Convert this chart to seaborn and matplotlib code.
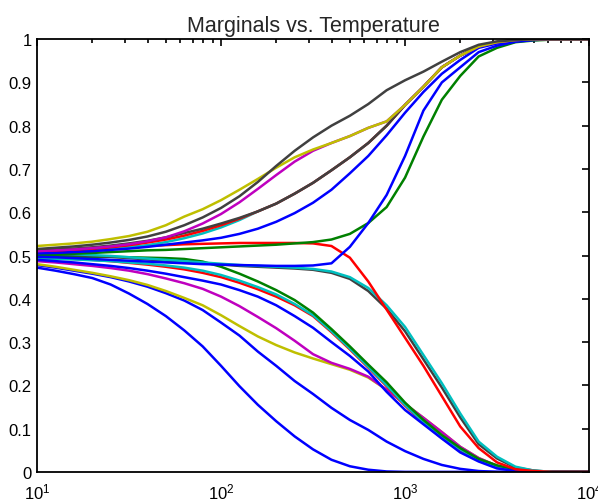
import numpy as np
import pandas as pd
import matplotlib
matplotlib.use("Agg")
import matplotlib.pyplot as plt
import seaborn as sns
from matplotlib.ticker import LogLocator, FixedLocator

sns.set_style("white")
plt.rcParams['font.family'] = ['Liberation Sans', 'DejaVu Sans']
plt.rcParams['mathtext.default'] = 'regular'

# temperatures (x), 10 steps per decade
T = [10, 12.59, 15.85, 19.95, 25.12, 31.62, 39.81, 50.12, 63.10, 79.43,
     100, 125.9, 158.5, 199.5, 251.2, 316.2, 398.1, 501.2, 631.0, 794.3,
     1000, 1259, 1585, 1995, 2512, 3162, 3981, 5012, 6310, 7943, 10000]

# marginal curves
gray_top   = [0.515, 0.518, 0.521, 0.525, 0.530, 0.536, 0.544, 0.555, 0.570, 0.588,
              0.610, 0.637, 0.670, 0.707, 0.742, 0.773, 0.800, 0.823, 0.850, 0.882,
              0.905, 0.925, 0.948, 0.970, 0.987, 0.995, 0.998, 1.0, 1.0, 1.0, 1.0]
yellow_top = [0.522, 0.525, 0.528, 0.532, 0.538, 0.545, 0.555, 0.570, 0.590, 0.607,
              0.628, 0.652, 0.677, 0.703, 0.727, 0.745, 0.760, 0.776, 0.795, 0.810,
              0.848, 0.890, 0.935, 0.962, 0.983, 0.993, 0.998, 1.0, 1.0, 1.0, 1.0]
magenta_up = [0.510, 0.512, 0.514, 0.517, 0.521, 0.526, 0.533, 0.542, 0.556, 0.574,
              0.596, 0.623, 0.654, 0.686, 0.717, 0.742, 0.760, 0.776, 0.795, 0.810,
              0.848, 0.890, 0.935, 0.962, 0.983, 0.993, 0.998, 1.0, 1.0, 1.0, 1.0]
gray_2     = [0.512, 0.514, 0.516, 0.519, 0.523, 0.528, 0.534, 0.542, 0.552, 0.562,
              0.574, 0.587, 0.602, 0.620, 0.643, 0.668, 0.697, 0.727, 0.760, 0.800,
              0.848, 0.890, 0.935, 0.962, 0.983, 0.993, 0.998, 1.0, 1.0, 1.0, 1.0]
red_up2    = [0.508, 0.510, 0.512, 0.515, 0.519, 0.524, 0.530, 0.537, 0.546, 0.557,
              0.570, 0.585, 0.602, 0.620, 0.643, 0.668, 0.697, 0.727, 0.760, 0.800,
              0.848, 0.890, 0.935, 0.962, 0.983, 0.993, 0.998, 1.0, 1.0, 1.0, 1.0]
cyan_up2   = [0.507, 0.508, 0.510, 0.512, 0.515, 0.519, 0.524, 0.531, 0.540, 0.551,
              0.565, 0.582, 0.602, 0.620, 0.643, 0.668, 0.697, 0.727, 0.760, 0.800,
              0.848, 0.890, 0.935, 0.962, 0.983, 0.993, 0.998, 1.0, 1.0, 1.0, 1.0]
blue_up    = [0.505, 0.506, 0.508, 0.510, 0.513, 0.516, 0.520, 0.525, 0.530, 0.535,
              0.541, 0.550, 0.562, 0.578, 0.598, 0.622, 0.652, 0.690, 0.730, 0.778,
              0.830, 0.878, 0.920, 0.952, 0.980, 0.990, 0.996, 0.999, 1.0, 1.0, 1.0]
blue_rise  = [0.497, 0.496, 0.494, 0.492, 0.490, 0.488, 0.486, 0.484, 0.482, 0.480,
              0.479, 0.478, 0.477, 0.476, 0.476, 0.477, 0.482, 0.520, 0.575, 0.640,
              0.730, 0.835, 0.900, 0.935, 0.970, 0.985, 0.994, 0.998, 1.0, 1.0, 1.0]
green_up   = [0.500, 0.502, 0.504, 0.506, 0.508, 0.510, 0.512, 0.513, 0.515, 0.517,
              0.519, 0.521, 0.523, 0.525, 0.528, 0.531, 0.537, 0.550, 0.575, 0.612,
              0.680, 0.775, 0.860, 0.915, 0.960, 0.980, 0.993, 0.997, 0.999, 1.0, 1.0]
red_down   = [0.505, 0.508, 0.511, 0.514, 0.517, 0.520, 0.522, 0.524, 0.526, 0.527,
              0.528, 0.529, 0.529, 0.529, 0.529, 0.528, 0.522, 0.495, 0.440, 0.375,
              0.310, 0.245, 0.175, 0.105, 0.055, 0.022, 0.006, 0.002, 0.0, 0.0, 0.0]
gray_down  = [0.503, 0.502, 0.501, 0.499, 0.497, 0.494, 0.491, 0.488, 0.485, 0.482,
              0.479, 0.476, 0.474, 0.472, 0.470, 0.467, 0.460, 0.446, 0.418, 0.377,
              0.325, 0.260, 0.195, 0.126, 0.064, 0.031, 0.010, 0.003, 0.0, 0.0, 0.0]
cyan_down  = [0.505, 0.504, 0.503, 0.501, 0.499, 0.496, 0.493, 0.490, 0.487, 0.484,
              0.481, 0.478, 0.476, 0.474, 0.472, 0.469, 0.463, 0.450, 0.425, 0.385,
              0.335, 0.270, 0.205, 0.135, 0.070, 0.035, 0.012, 0.003, 0.0, 0.0, 0.0]
green_low  = [0.497, 0.497, 0.497, 0.497, 0.497, 0.496, 0.495, 0.494, 0.492, 0.486,
              0.474, 0.458, 0.440, 0.420, 0.397, 0.368, 0.330, 0.290, 0.248, 0.207,
              0.160, 0.120, 0.085, 0.055, 0.030, 0.015, 0.006, 0.002, 0.0, 0.0, 0.0]
red_low    = [0.495, 0.494, 0.492, 0.490, 0.487, 0.483, 0.479, 0.474, 0.468, 0.460,
              0.450, 0.437, 0.422, 0.405, 0.385, 0.360, 0.323, 0.283, 0.241, 0.198,
              0.153, 0.113, 0.078, 0.050, 0.027, 0.012, 0.004, 0.001, 0.0, 0.0, 0.0]
cyan_low   = [0.493, 0.492, 0.491, 0.489, 0.487, 0.484, 0.481, 0.477, 0.472, 0.465,
              0.455, 0.442, 0.427, 0.410, 0.388, 0.362, 0.325, 0.285, 0.243, 0.200,
              0.155, 0.115, 0.080, 0.052, 0.028, 0.013, 0.005, 0.001, 0.0, 0.0, 0.0]
blue_mid   = [0.490, 0.487, 0.484, 0.480, 0.476, 0.471, 0.465, 0.458, 0.450, 0.442,
              0.433, 0.420, 0.405, 0.385, 0.360, 0.333, 0.300, 0.268, 0.232, 0.185,
              0.143, 0.110, 0.077, 0.045, 0.024, 0.008, 0.002, 0.0, 0.0, 0.0, 0.0]
magenta_lo = [0.487, 0.484, 0.480, 0.476, 0.471, 0.465, 0.457, 0.447, 0.436, 0.423,
              0.405, 0.383, 0.358, 0.332, 0.303, 0.272, 0.252, 0.238, 0.220, 0.190,
              0.157, 0.125, 0.092, 0.058, 0.032, 0.014, 0.003, 0.0, 0.0, 0.0, 0.0]
yellow_lo  = [0.480, 0.474, 0.467, 0.460, 0.452, 0.443, 0.432, 0.418, 0.402, 0.385,
              0.362, 0.337, 0.313, 0.293, 0.276, 0.262, 0.249, 0.236, 0.218, 0.190,
              0.157, 0.125, 0.092, 0.058, 0.032, 0.014, 0.003, 0.0, 0.0, 0.0, 0.0]
blue_2     = [0.478, 0.472, 0.465, 0.458, 0.450, 0.440, 0.428, 0.413, 0.396, 0.374,
              0.345, 0.315, 0.278, 0.245, 0.210, 0.180, 0.148, 0.120, 0.097, 0.070,
              0.048, 0.030, 0.016, 0.007, 0.002, 0.0, 0.0, 0.0, 0.0, 0.0, 0.0]
blue_low   = [0.472, 0.465, 0.457, 0.448, 0.433, 0.412, 0.388, 0.360, 0.327, 0.290,
              0.245, 0.198, 0.155, 0.117, 0.082, 0.052, 0.028, 0.013, 0.005, 0.001,
              0.0, 0.0, 0.0, 0.0, 0.0, 0.0, 0.0, 0.0, 0.0, 0.0, 0.0]

B = (0, 0, 1); G = (0, 0.5, 0); R = (1, 0, 0); C = (0, 0.75, 0.75)
M = (0.75, 0, 0.75); Y = (0.75, 0.75, 0); K = (0.25, 0.25, 0.25)

series = [
    (blue_low, B), (blue_2, B), (yellow_lo, Y), (magenta_lo, M), (red_low, R),
    (cyan_low, C), (green_low, G), (blue_mid, B), (gray_down, K), (cyan_down, C),
    (red_down, R), (green_up, G), (blue_rise, B), (cyan_up2, C), (red_up2, R),
    (gray_2, K), (blue_up, B), (magenta_up, M), (yellow_top, Y), (gray_top, K),
]

fig = plt.figure(figsize=(5.98, 5.02), dpi=100)
ax = fig.add_axes([0.062, 0.058, 0.923, 0.862])
for vals, col in series:
    sns.lineplot(x=T, y=vals, color=col, linewidth=1.8, ax=ax)

ax.set_xscale('log')
ax.set_xlim(10, 10000)
ax.set_ylim(0, 1)
ax.yaxis.set_major_locator(FixedLocator(np.arange(0, 1.01, 0.1)))
ax.set_yticklabels(['0', '0.1', '0.2', '0.3', '0.4', '0.5', '0.6', '0.7', '0.8', '0.9', '1'])
ax.xaxis.set_major_locator(LogLocator(base=10, numticks=10))
ax.xaxis.set_minor_locator(LogLocator(base=10, subs=np.arange(2, 10), numticks=20))
ax.tick_params(which='both', direction='in', top=True, right=True, labelsize=12, width=1.2, colors='black')
ax.tick_params(which='major', length=5, pad=4)
ax.tick_params(which='minor', length=3)
ax.tick_params(axis='x', which='major', pad=7)
for s in ax.spines.values():
    s.set_visible(True)
    s.set_color('black')
    s.set_linewidth(1.3)
ax.set_title('Marginals vs. Temperature', fontsize=15.5, pad=6)
ax.set_xlabel('')
ax.set_ylabel('')
fig.savefig('out.png', dpi=100, facecolor='white')
